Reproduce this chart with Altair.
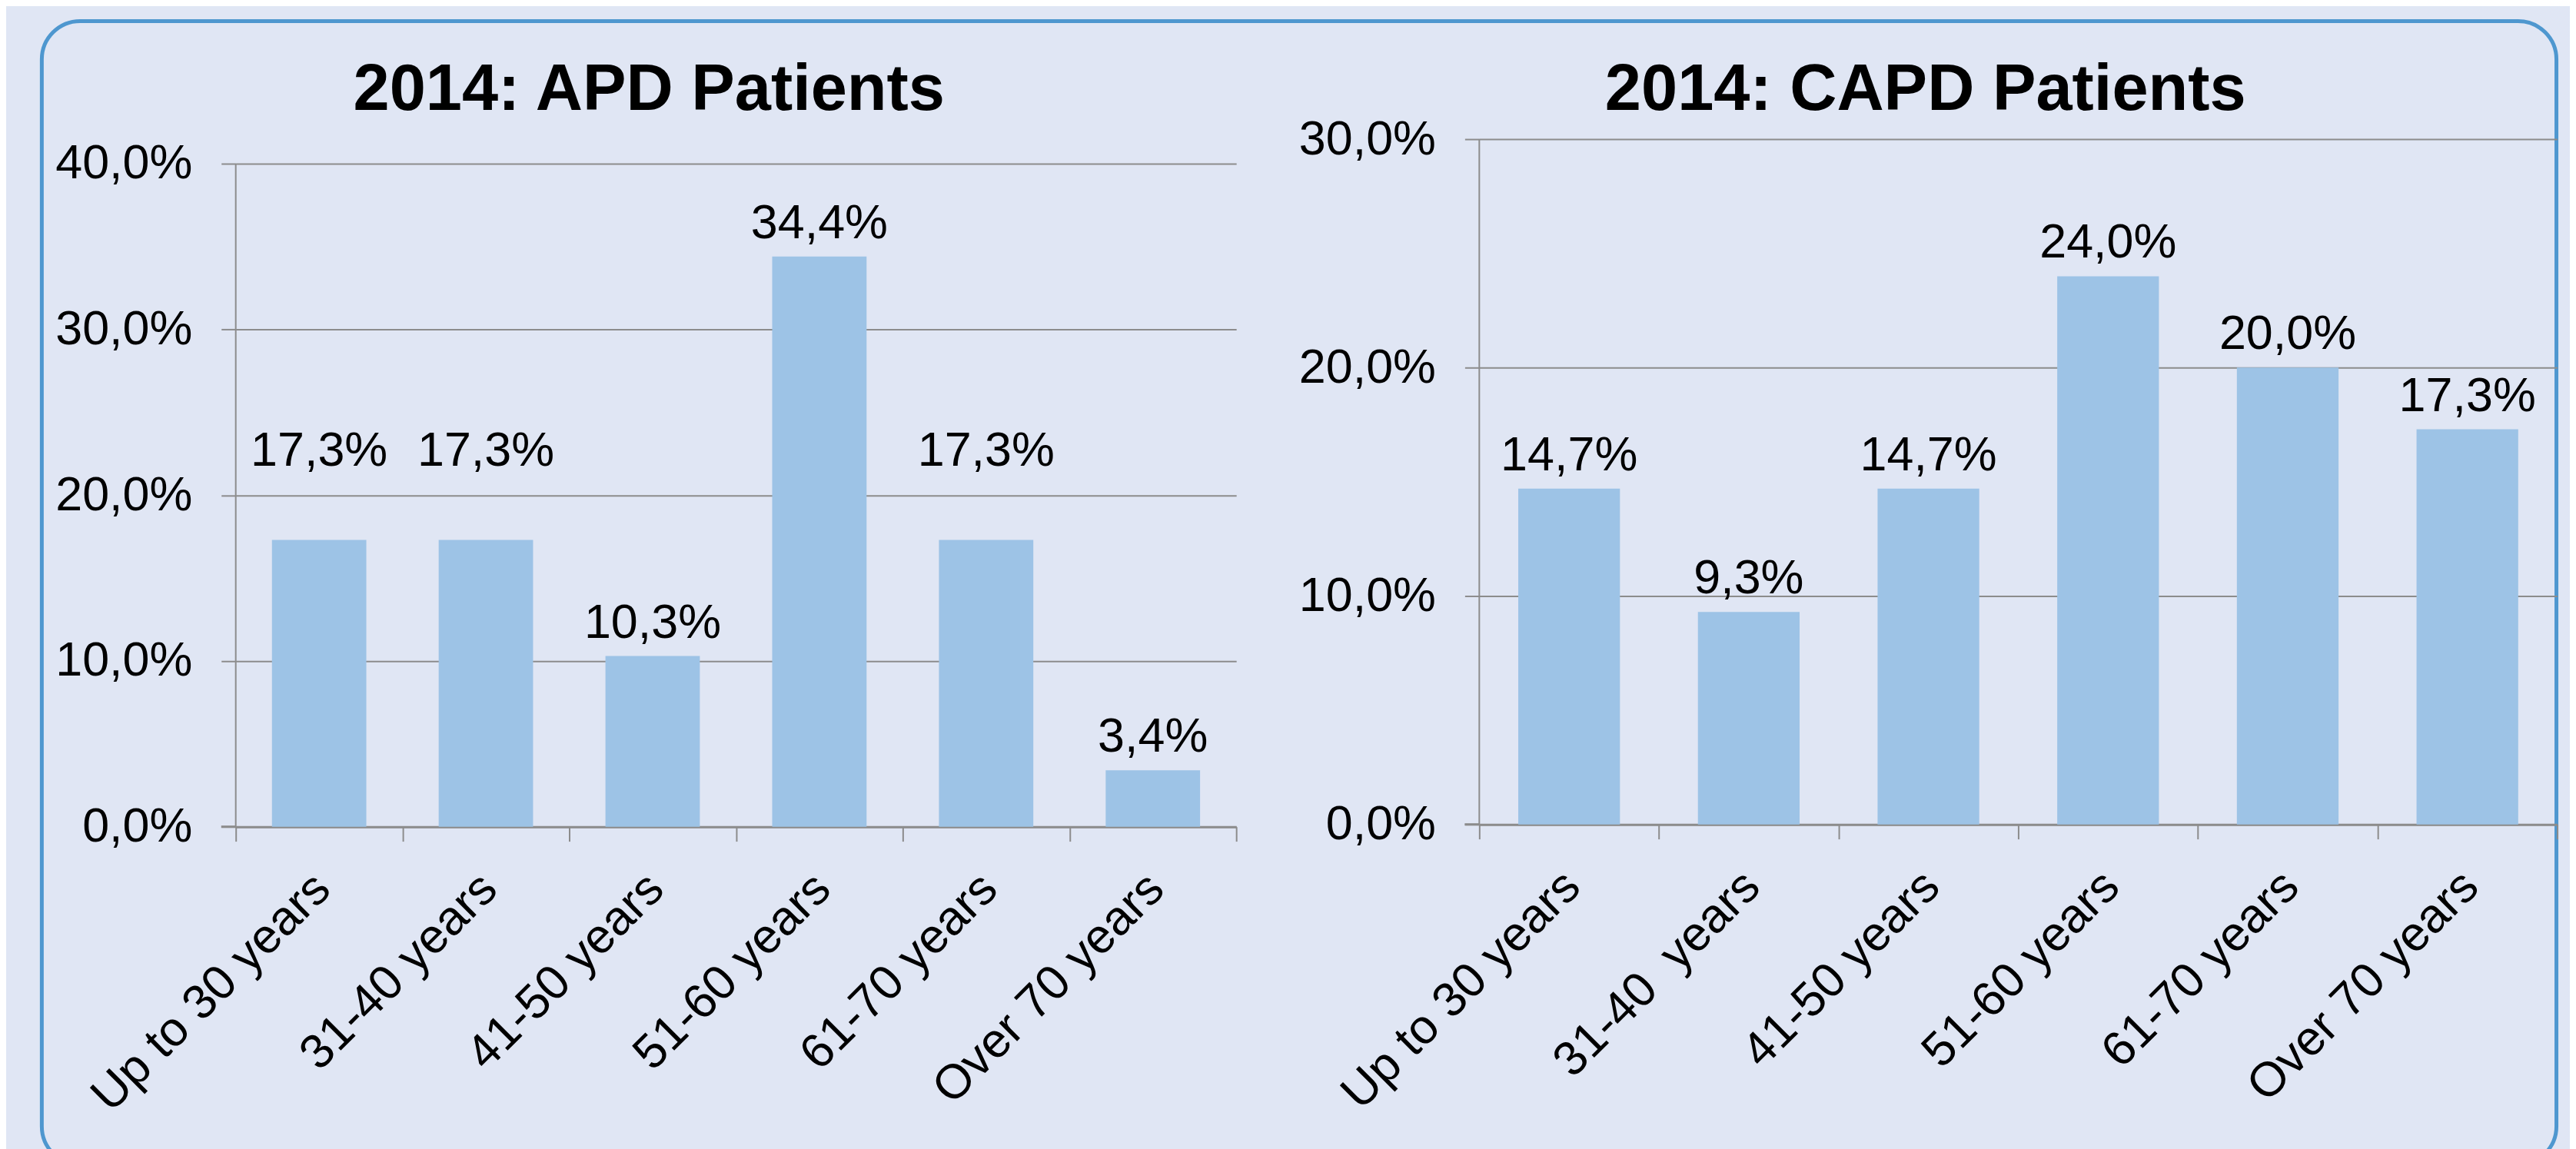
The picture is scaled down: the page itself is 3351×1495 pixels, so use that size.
import altair as alt
import pandas as pd

# ---- data ----
apd_categories = ["Up to 30 years", "31-40 years", "41-50 years", "51-60 years", "61-70 years", "Over 70 years"]
apd_values = [17.3, 17.3, 10.3, 34.4, 17.3, 3.4]
capd_categories = ["Up to 30 years", "31-40\u00a0 years", "41-50 years", "51-60 years", "61-70 years", "Over 70 years"]
capd_values = [14.7, 9.3, 14.7, 24.0, 20.0, 17.3]
apd_ticks = [0, 10, 20, 30, 40]
capd_ticks = [0, 10, 20, 30]
apd_raised_labels = ["Up to 30 years", "31-40 years", "61-70 years"]
capd_raised_labels = []
titles = ["2014: APD Patients", "2014: CAPD Patients"]

# ---- style ----
FONT = "Liberation Sans"
BG = "#E0E6F4"
BAR = "#9DC3E6"
GRID = "#8C8C8C"
BORDER = "#4E97CF"
FS = 63
PCT_AXIS = "replace(format(datum.value, '.1f'), '.', ',') + '%'"
PCT_LBL = "replace(format(datum.v, '.1f'), '.', ',') + '%'"


def panel(cats, vals, ticks, ymax, width, height, title, title_x, raised, border=False):
    df = pd.DataFrame({"cat": cats, "v": vals})
    df["raised"] = df["cat"].isin(raised)
    base = alt.Chart(df).transform_calculate(lbl=PCT_LBL)

    x = alt.X(
        "cat:N", sort=cats,
        scale=alt.Scale(paddingInner=0, paddingOuter=0),
        axis=alt.Axis(
            title="", labelAngle=-45, labelFont=FONT, labelFontSize=FS, labelColor="black",
            labelPadding=30, labelOffset=-18, labelLimit=1000, labelOverlap=False, tickBand="extent",
            tickSize=19, tickColor=GRID, tickWidth=2, domainColor=GRID, domainWidth=3, grid=False,
        ),
    )
    y = alt.Y(
        "v:Q",
        scale=alt.Scale(domain=[0, ymax], nice=False, zero=True),
        axis=alt.Axis(
            title="", values=ticks, labelExpr=PCT_AXIS, labelFont=FONT, labelFontSize=FS,
            labelColor="black", labelPadding=38, tickSize=19, tickColor=GRID, tickWidth=2,
            grid=True, gridColor=GRID, gridWidth=2, domain=False,
        ),
    )

    bars = base.mark_bar(color=BAR, width=alt.RelativeBandSize(0.566)).encode(x=x, y=y)
    lbl = base.transform_filter("!datum.raised").mark_text(
        font=FONT, fontSize=FS, color="black", baseline="alphabetic", dy=-24
    ).encode(x=x, y=y, text="lbl:N")
    lbl_r = base.transform_filter("datum.raised").mark_text(
        font=FONT, fontSize=FS, color="black", baseline="alphabetic", dy=-97
    ).encode(x=x, y=y, text="lbl:N")
    yline = alt.Chart(pd.DataFrame({"a": [0]})).mark_rule(color=GRID, strokeWidth=2).encode(
        x=alt.value(0),
        y=alt.YDatum(ticks[0], type="quantitative"),
        y2=alt.Y2Datum(ticks[-1]),
    )
    xstub = alt.Chart(pd.DataFrame({"a": [0]})).mark_rule(color=GRID, strokeWidth=3).encode(
        x=alt.value(-19), x2=alt.value(0),
        y=alt.YDatum(ticks[0], type="quantitative"),
    )
    ttl = alt.Chart(pd.DataFrame({"t": [title]})).mark_text(
        font=FONT, fontSize=85, fontWeight="bold", color="black", align="center", baseline="alphabetic"
    ).encode(x=alt.value(title_x), y=alt.value(-38), text="t:N")

    layers = [bars, yline, xstub, lbl, lbl_r, ttl]
    if border:
        frame = alt.Chart(pd.DataFrame({"a": [0]})).mark_rect(
            fill="transparent", stroke=BORDER, strokeWidth=5, cornerRadius=50
        ).encode(x=alt.value(-253), x2=alt.value(3027), y=alt.value(-154), y2=alt.value(1338))
        layers.append(frame)
    return alt.layer(*layers).properties(width=width, height=height)


left = panel(apd_categories, apd_values, apd_ticks, 40 * 897 / 865, 1305, 897,
             titles[0], 539, apd_raised_labels, border=True)
right = panel(capd_categories, capd_values, capd_ticks, 30, 1406, 894,
              titles[1], 582, capd_raised_labels)

chart = alt.hconcat(
    left, right, spacing=317, bounds="flush",
    padding={"left": 43.5, "top": 14.5, "right": 14.5, "bottom": 0},
    background=BG,
).configure_view(strokeWidth=0)

chart.save("out.html", embed_options={"renderer": "svg", "actions": False})
